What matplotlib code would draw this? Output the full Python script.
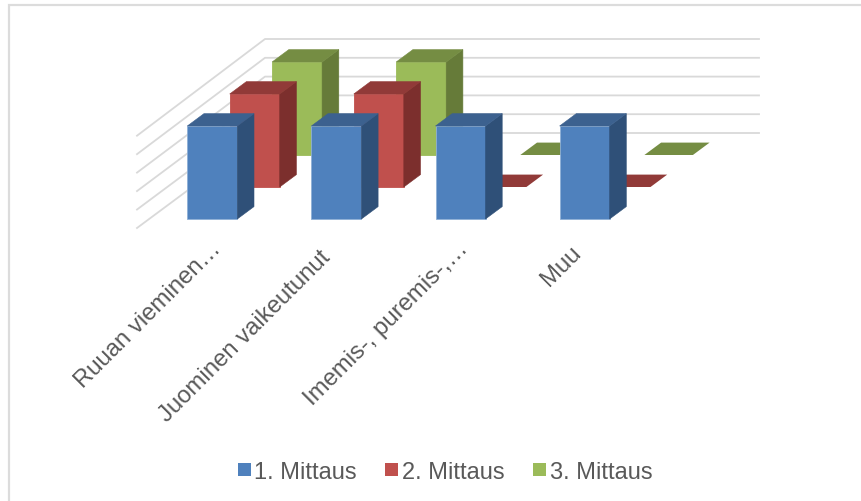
import matplotlib
matplotlib.use("Agg")
import matplotlib.pyplot as plt
from matplotlib.patches import Polygon, Rectangle

plt.rcParams["font.family"] = ["Liberation Sans", "DejaVu Sans"]

categories = ["Ruuan vieminen…", "Juominen vaikeutunut", "Imemis-, puremis-,…", "Muu"]
series_names = ["1. Mittaus", "2. Mittaus", "3. Mittaus"]
mittaus1 = [1, 1, 1, 1]
mittaus2 = [1, 1, 0, 0]
mittaus3 = [1, 1, 0, 0]
ticks = [0, 0.2, 0.4, 0.6, 0.8, 1.0]

# front, top, side colours per series
colors = [("#4f81bd", "#3c618f", "#2f5078"),
          ("#c0504d", "#913a38", "#7c2f2d"),
          ("#9bbb59", "#758d43", "#667b39")]

# oblique projection, everything in image pixels
X0, Y0 = 187.3, 220
CAT_DX = 124.1
SER_DX, SER_DY = 42.4, -32
BAR_W = 50
VAL_H = 93
DEP_X, DEP_Y = 16.7, -12.4


def project(cat, ser, val, dep=0):
    x = X0 + cat * CAT_DX + ser * SER_DX + dep * DEP_X
    y = Y0 + ser * SER_DY - val * VAL_H + dep * DEP_Y
    return x, y


def draw_bar(ax, cat, ser, val, z):
    front, top, side = colors[ser]
    x, y = project(cat, ser, 0)
    h = val * VAL_H
    w = BAR_W if val > 0 else BAR_W - 1.5
    if val > 0:
        ax.add_patch(Rectangle((x, y - h), w, h, fc=front, ec="#8fb0d6" if ser == 0 else front,
                               lw=0.6, zorder=z))
        ax.add_patch(Polygon([(x + w, y), (x + w, y - h),
                              (x + w + DEP_X, y - h + DEP_Y), (x + w + DEP_X, y + DEP_Y)],
                             fc=side, ec=side, lw=0.4, zorder=z))
    ax.add_patch(Polygon([(x, y - h), (x + w, y - h),
                          (x + w + DEP_X, y - h + DEP_Y), (x + DEP_X, y - h + DEP_Y)],
                         fc=top, ec=top, lw=0.4 if val > 0 else 0, zorder=z))


fig = plt.figure(figsize=(8.61, 5.02), dpi=100)
ax = fig.add_axes([0, 0, 1, 1])
ax.set_xlim(0, 861)
ax.set_ylim(502, 0)
ax.axis("off")

# chart frame
ax.plot([8.5, 8.5, 861], [502, 6, 6], color="#dcdcdc", lw=1.6, zorder=1, solid_joinstyle="miter")

# walls and grid lines
for t in ticks:
    y_front = 229 - t * 92.3
    y_back = 134 - t * 94
    ax.plot([137, 265, 759], [y_front, y_back, y_back], color="#d9d9d9", lw=1.3, zorder=2)

# back series first so the front ones cover them
all_series = [mittaus1, mittaus2, mittaus3]
for s in [2, 1, 0]:
    for c, v in enumerate(all_series[s]):
        draw_bar(ax, c, s, v, 5 + (2 - s))

# category labels, right end anchored under each bar
label_x = [210, 319, 457, 570]
label_y = [238, 247, 238, 242]
for name, lx, ly in zip(categories, label_x, label_y):
    ax.text(lx, ly, name, rotation=45, rotation_mode="anchor", ha="right", va="top",
            fontsize=17.2, color="#595959", zorder=10)

# legend
leg_x = [237.5, 384.5, 532.5]
for s, name in enumerate(series_names):
    ax.add_patch(Rectangle((leg_x[s], 464), 13, 13, fc=colors[s][0], ec="none", zorder=10))
    ax.text(leg_x[s] + 17, 471, name, ha="left", va="center_baseline", fontsize=17,
            color="#595959", zorder=10)

fig.savefig("out.png", dpi=100)
